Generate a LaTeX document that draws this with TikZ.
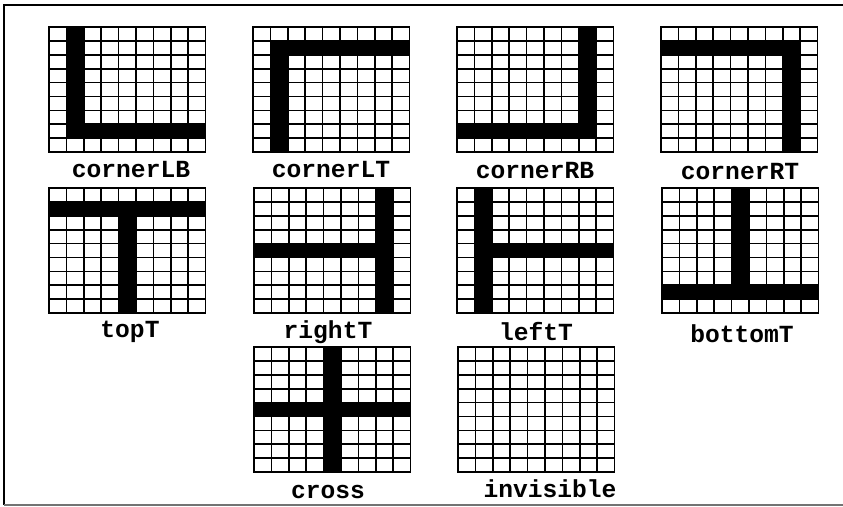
\documentclass[tikz,border=0pt]{standalone}
\usepackage{fontspec}
\newfontfamily\tilefont{Liberation Mono}

\tikzset{
  gridline/.style={line width=1.5pt, line cap=rect},
  tilelabel/.style={font=\tilefont\bfseries\fontsize{21}{25}\selectfont, inner sep=0pt},
  frameline/.style={line width=1.4pt}
}

% one 9x9 tile, origin in px, black cells given as #3
\newcommand{\tilegrid}[3]{%
  \begin{scope}[shift={(#1,#2)},x=0.522cm,y=-0.417cm]
    #3
    \foreach \i in {0,...,9}
    {\draw[gridline] (\i,0) -- (\i,9);
    \draw[gridline] (0,\i) -- (9,\i);}
  \end{scope}}

\begin{document}
\begin{tikzpicture}[x=0.03cm,y=-0.03cm]

\useasboundingbox (0,0) rectangle (843,507);

% frame
\draw[frameline] (843,5) -- (4,5) -- (4,505);
\draw[frameline,black!55] (4,505) -- (843,505);

% first row
\tilegrid{49}{27}{\fill (1,0) rectangle (2,8); \fill (1,7) rectangle (9,8);}
\tilegrid{253}{27}{\fill (1,1) rectangle (9,2); \fill (1,1) rectangle (2,9);}
\tilegrid{457}{27}{\fill (7,0) rectangle (8,8); \fill (0,7) rectangle (8,8);}
\tilegrid{661}{27}{\fill (0,1) rectangle (8,2); \fill (7,1) rectangle (8,9);}
\node[tilelabel] (cornerLB) at (131,170) {cornerLB};
\node[tilelabel] (cornerLT) at (331,170) {cornerLT};
\node[tilelabel] (cornerRB) at (535,171) {cornerRB};
\node[tilelabel] (cornerRT) at (740,172) {cornerRT};

% second row
\tilegrid{49}{188}{\fill (0,1) rectangle (9,2); \fill (4,1) rectangle (5,9);}
\tilegrid{254}{188}{\fill (7,0) rectangle (8,9); \fill (0,4) rectangle (8,5);}
\tilegrid{457}{188}{\fill (1,0) rectangle (2,9); \fill (1,4) rectangle (9,5);}
\tilegrid{662}{188}{\fill (4,0) rectangle (5,8); \fill (0,7) rectangle (9,8);}
\node[tilelabel] (topT) at (130,332) {topT};
\node[tilelabel] (rightT) at (328,332) {rightT};
\node[tilelabel] (leftT) at (536,332) {leftT};
\node[tilelabel] (bottomT) at (742,334) {bottomT};

% third row
\tilegrid{254}{347}{\fill (4,0) rectangle (5,9); \fill (0,4) rectangle (9,5);}
\tilegrid{458}{347}{}
\node[tilelabel] (cross) at (328,492) {cross};
\node[tilelabel] (invisible) at (550,489) {invisible};

\end{tikzpicture}
\end{document}
